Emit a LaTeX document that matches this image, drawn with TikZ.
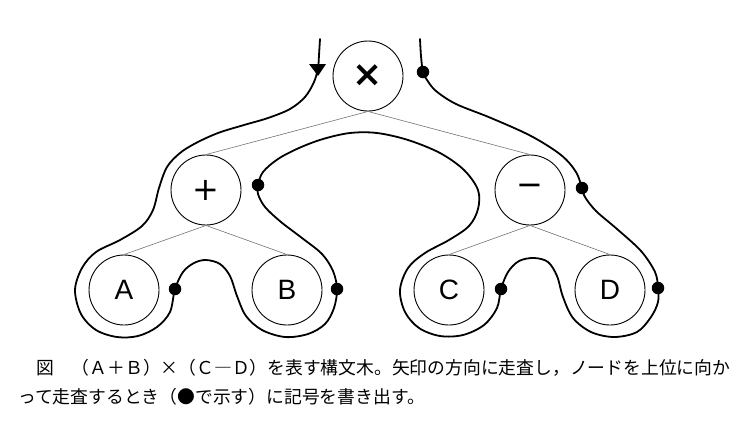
\documentclass[tikz,border=0pt]{standalone}
\usepackage{fontspec}
\setmainfont{Liberation Sans}
\newfontfamily\cjkfont{Noto Sans CJK JP}
\newfontfamily\opfont{DejaVu Sans}
\begin{document}
\begin{tikzpicture}[x=1pt,y=-1pt,
  tnode/.style={circle, draw, line width=0.9pt, minimum size=70pt, inner sep=0pt,
    font=\fontsize{28}{28}\selectfont},
  opnode/.style={tnode, font=\opfont\fontsize{32}{32}\selectfont},
  treeedge/.style={draw=black!55, line width=0.6pt},
  walk/.style={line width=1.8pt, line join=round, line cap=round},
  dotmark/.style={circle, fill, inner sep=0pt, minimum size=12.5pt},
  caption/.style={anchor=base west, inner sep=0pt, font=\cjkfont\fontsize{17.8}{20}\selectfont}]
\useasboundingbox (0,0) rectangle (755,426);

% tree nodes
\node[opnode, font=\opfont\bfseries\fontsize{36}{36}\selectfont] (mul) at (368,76) {×};
\node[opnode] (add) at (206,190) {+};
\node[opnode] (sub) at (530,190) {−};
\node[tnode] (A) at (124,290) {A};
\node[tnode] (B) at (287,290) {B};
\node[tnode] (C) at (449,290) {C};
\node[tnode] (D) at (610,290) {D};

% tree edges
\draw[treeedge] (mul.south) -- (add.north);
\draw[treeedge] (mul.south) -- (sub.north);
\draw[treeedge] (add.south) -- (A.north);
\draw[treeedge] (add.south) -- (B.north);
\draw[treeedge] (sub.south) -- (C.north);
\draw[treeedge] (sub.south) -- (D.north);

% output points
\coordinate (pmul) at (423,72);
\coordinate (padd) at (258,185);
\coordinate (psub) at (582,188);
\coordinate (pA) at (175,289);
\coordinate (pB) at (337,289);
\coordinate (pC) at (501,289);
\coordinate (pD) at (658,288);
\coordinate (start) at (320,39);
\coordinate (stop) at (420,39);

% traversal path
\draw[walk] plot[smooth, tension=0.55] coordinates {
 (start) (319,55) (318,68) (314,82) (305,97) (290,109) (268,118) (244,125)
 (218,133) (196,143) (180,153) (167,167) (159,188) (153,210) (142,226)
 (120,240) (96,252) (82,268) (75,290) (81,314) (96,330) (117,337)
 (138,336) (157,327) (170,312) (pA) (183,272) (194,263) (206,260)
 (220,264) (230,276) (237,296) (246,316) (262,330) (285,337) (308,334)
 (325,324) (334,308) (pB) (333,271) (322,254) (302,238) (281,222)
 (265,207) (258,194) (padd) (263,172) (278,159) (299,148) (323,139)
 (350,133) (377,133) (408,140) (440,153) (464,170) (478,190) (478,209)
 (469,226) (449,240) (425,253) (408,268) (400,290) (405,312) (419,328)
 (440,336) (463,335) (484,325) (497,308) (pC) (508,272) (519,261)
 (534,258) (548,262) (557,276) (563,297) (573,318) (591,332) (614,337)
 (637,332) (651,317) (658,302) (pD) (655,272) (641,251) (617,229)
 (596,211) (585,197) (psub) (576,172) (561,155) (531,136) (491,118)
 (456,104) (436,91) (427,80) (pmul) (421,56) (stop)};

% arrowhead on the descending start
\fill (309,64) -- (326,64) -- (318,76) -- cycle;

% dots
\foreach \p in {pmul,padd,psub,pA,pB,pC,pD}
  \node[dotmark] at (\p) {};

% caption
\node[caption] (cap1) at (36,374) {図　（Ａ＋Ｂ）\makebox[1em]{×}（Ｃ―Ｄ）を表す構文木。矢印の方向に走査し，ノードを上位に向か};
\node[caption] (cap2) at (18,403) {って走査するとき（●で示す）に記号を書き出す。};
\end{tikzpicture}
\end{document}
